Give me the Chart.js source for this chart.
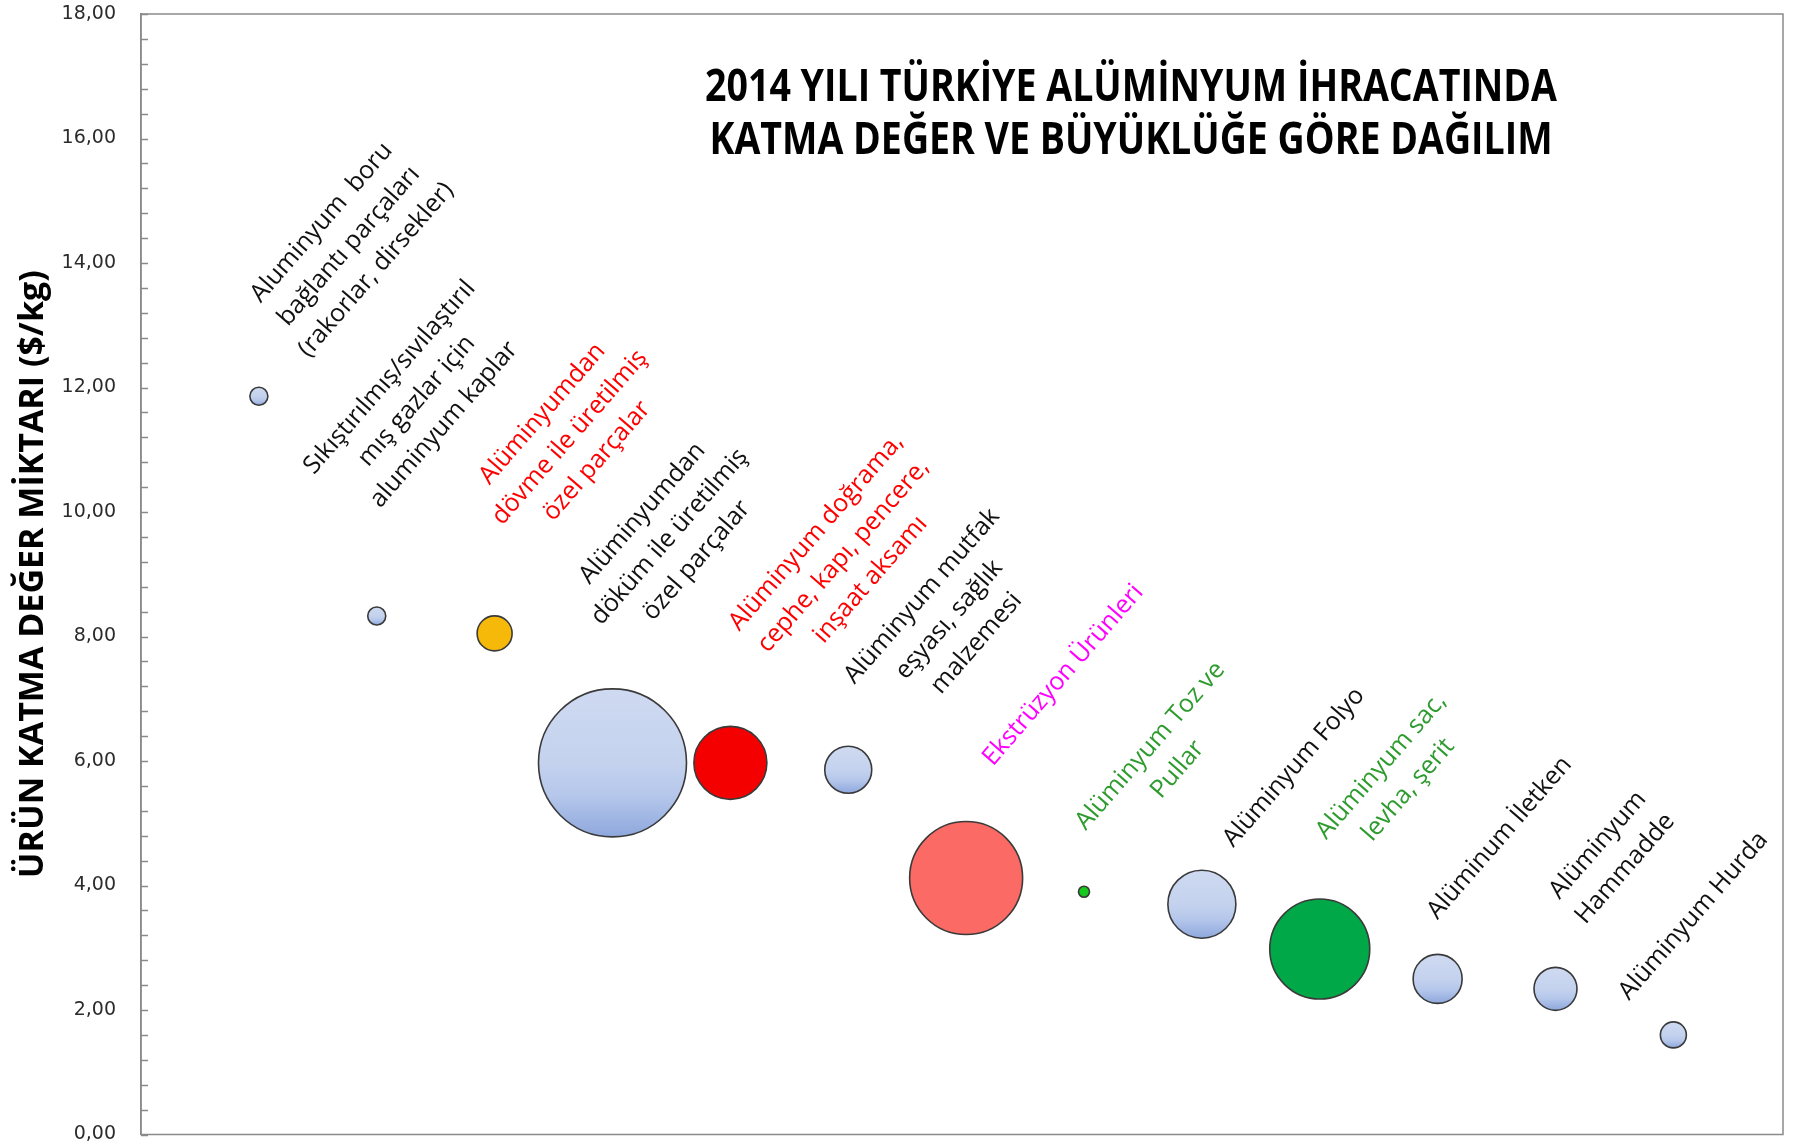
<!DOCTYPE html>
<html>
<head>
<meta charset="utf-8">
<script src="https://cdn.jsdelivr.net/npm/chart.js@4/dist/chart.umd.min.js"></script>
<style>
  html, body { margin: 0; padding: 0; background: #ffffff; }
  #wrap { width: 1795px; height: 1148px; }
</style>
</head>
<body>
<div id="wrap"><canvas id="c" width="1795" height="1148"></canvas></div>
<script>
// ---------- DATA ----------
const categories = [
  "Aluminyum  boru\nbağlantı parçaları\n(rakorlar, dirsekler)",
  "Sıkıştırılmış/sıvılaştırıl\nmış gazlar için\naluminyum kaplar",
  "Alüminyumdan\ndövme ile üretilmiş\nözel parçalar",
  "Alüminyumdan\ndöküm ile üretilmiş\nözel parçalar",
  "Alüminyum doğrama,\ncephe, kapı, pencere,\ninşaat aksamı",
  "Alüminyum mutfak\neşyası, sağlık\nmalzemesi",
  "Ekstrüzyon Ürünleri",
  "Alüminyum Toz ve\nPullar",
  "Alüminyum Folyo",
  "Alüminyum sac,\nlevha, şerit",
  "Alüminum İletken",
  "Alüminyum\nHammadde",
  "Alüminyum Hurda"
];
const xPositions = [1, 2, 3, 4, 5, 6, 7, 8, 9, 10, 11, 12, 13];
const valueAdded = [11.86, 8.33, 8.05, 5.97, 5.97, 5.86, 4.12, 3.90, 3.70, 2.98, 2.50, 2.34, 1.60];
const bubbleSizes = [9, 9, 17.5, 74, 36.5, 23.5, 56.5, 5.5, 34, 50, 24.5, 21.5, 13];
const yTickValues = [0, 2, 4, 6, 8, 10, 12, 14, 16, 18];
const yTickLabels = ["0,00", "2,00", "4,00", "6,00", "8,00", "10,00", "12,00", "14,00", "16,00", "18,00"];
const chartTitle = ["2014 YILI TÜRKİYE ALÜMİNYUM İHRACATINDA", "KATMA DEĞER VE BÜYÜKLÜĞE GÖRE DAĞILIM"];
const yAxisTitle = "ÜRÜN KATMA DEĞER MİKTARI ($/kg)";

// ---------- STYLES ----------
const bubbleFillKind = ["blue", "blue", "gold", "blue", "red", "blue", "salmon", "lime", "blue", "green", "blue", "blue", "blue"];
const solidFills = { gold: "#f6b90a", red: "#f50000", salmon: "#fb6a64", lime: "#16c91c", green: "#00a847" };
const labelColors = ["#111", "#111", "#ff0000", "#111", "#ff0000", "#111", "#ff00ff", "#2e9b2e", "#111", "#2e9b2e", "#111", "#111", "#111"];
const labelOffsets = [[90, -150], [40, -215], [75, -196], [57, -226], [113, -207], [101, -150], [97, -203], [80, -134], [92, -137], [75, -171], [62, -141], [56, -132], [20, -119]];
const labelAngle = -49 * Math.PI / 180;
const labelLineHeight = 36;
const labelFont = "25px 'Open Sans'";
const yMinorUnit = 0.4;
const frameColor = "#8a8a8a";

function bubbleFill(ctx) {
  const i = ctx.dataIndex;
  if (i === undefined) return "#c3d1ee";
  const kind = bubbleFillKind[i];
  if (kind !== "blue") return solidFills[kind];
  const chart = ctx.chart;
  const ys = chart.scales && chart.scales.y;
  if (!ys || !chart.chartArea) return "#c3d1ee";
  const y = ys.getPixelForValue(valueAdded[i]);
  const r = bubbleSizes[i];
  const g = chart.ctx.createLinearGradient(0, y - r, 0, y + r);
  g.addColorStop(0, "#cfdaf1");
  g.addColorStop(0.5, "#c4d2ee");
  g.addColorStop(0.72, "#b5c7eb");
  g.addColorStop(1, "#8ea7dc");
  return g;
}

const decorPlugin = {
  id: "decor",
  beforeDatasetsDraw(chart) {
    const { ctx, chartArea: a, scales } = chart;
    ctx.save();
    ctx.strokeStyle = frameColor;
    ctx.lineWidth = 1.5;
    ctx.strokeRect(a.left, a.top, a.right - a.left, a.bottom - a.top);
    const ys = scales.y;
    ctx.beginPath();
    const n = Math.round((ys.max - ys.min) / yMinorUnit);
    for (let k = 0; k <= n; k++) {
      const py = Math.round(ys.getPixelForValue(ys.min + k * yMinorUnit)) + 0.5;
      ctx.moveTo(a.left, py);
      ctx.lineTo(a.left + 7, py);
    }
    ctx.stroke();
    ctx.restore();
  },
  afterDraw(chart) {
    const { ctx, scales } = chart;
    ctx.save();
    ctx.fillStyle = "#000";
    ctx.font = "bold 44px 'Open Sans'";
    ctx.textAlign = "center";
    ctx.textBaseline = "middle";
    const w = ctx.measureText(chartTitle[0]).width;
    const sx = 852 / w;
    const tx = 1131;
    [88, 141].forEach((ty, j) => {
      ctx.save();
      ctx.translate(tx, ty);
      ctx.scale(sx, 1);
      ctx.fillText(chartTitle[j], 0, 0);
      ctx.restore();
    });
    ctx.font = labelFont;
    categories.forEach((label, i) => {
      const px = scales.x.getPixelForValue(xPositions[i]) + labelOffsets[i][0];
      const py = scales.y.getPixelForValue(valueAdded[i]) + labelOffsets[i][1];
      const lines = label.split("\n");
      ctx.save();
      ctx.translate(px, py);
      ctx.rotate(labelAngle);
      ctx.fillStyle = labelColors[i];
      lines.forEach((ln, j) => {
        ctx.fillText(ln, 0, (j - (lines.length - 1) / 2) * labelLineHeight);
      });
      ctx.restore();
    });
    ctx.restore();
  }
};

new Chart(document.getElementById("c"), {
  type: "bubble",
  data: {
    datasets: [{
      label: "2014",
      data: xPositions.map((x, i) => ({ x: x, y: valueAdded[i], r: bubbleSizes[i] })),
      backgroundColor: bubbleFill,
      borderColor: "#3a3a3a",
      borderWidth: 1.6,
      hoverRadius: 0,
      hoverBorderWidth: 1.6,
      clip: false
    }]
  },
  options: {
    responsive: false,
    animation: false,
    events: [],
    layout: { autoPadding: false, padding: { left: 0, top: 14, right: 12, bottom: 13.5 } },
    plugins: {
      legend: { display: false },
      title: { display: false },
      tooltip: { enabled: false }
    },
    scales: {
      x: {
        type: "linear",
        min: 0,
        max: 13.93,
        display: false
      },
      y: {
        type: "linear",
        min: 0,
        max: 18,
        afterBuildTicks: (scale) => { scale.ticks = yTickValues.map(v => ({ value: v })); },
        afterFit: (scale) => { scale.width = 141; },
        ticks: {
          autoSkip: false,
          padding: 0,
          color: "#2b2b2b",
          font: { family: "'DejaVu Sans'", size: 19 },
          callback: (v) => {
            const idx = yTickValues.indexOf(v);
            return idx >= 0 ? yTickLabels[idx] : "";
          }
        },
        grid: { display: true, drawOnChartArea: false, drawTicks: true, tickLength: 25, tickColor: "rgba(0,0,0,0)" },
        border: { display: true, color: frameColor, width: 1.5 },
        title: {
          display: true,
          text: yAxisTitle,
          color: "#000",
          font: { family: "'Open Sans'", weight: "bold", size: 34 },
          padding: { top: 13, bottom: 0 }
        }
      }
    }
  },
  plugins: [decorPlugin]
});
</script>
</body>
</html>
